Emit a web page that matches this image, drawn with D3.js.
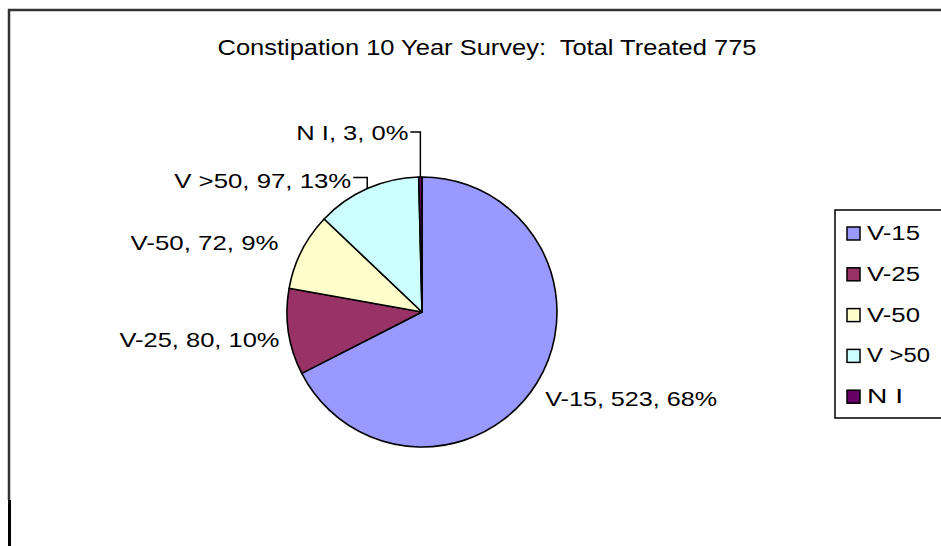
<!DOCTYPE html>
<html>
<head>
<meta charset="utf-8">
<script src="https://cdn.jsdelivr.net/npm/d3@7"></script>
<style>
  body { margin: 0; background: #fff; }
  svg { display: block; }
  text { font-family: "Liberation Sans", Arial, sans-serif; fill: #000; white-space: pre; }
</style>
</head>
<body>
<script>
// chart data
var categories = ["V-15", "V-25", "V-50", "V >50", "N I"];
var counts = [523, 80, 72, 97, 3];
var percents = ["68%", "10%", "9%", "13%", "0%"];
var colors = ["#9999ff", "#993366", "#ffffcc", "#ccffff", "#660066"];
var title = "Constipation 10 Year Survey:  Total Treated 775";

var width = 941, height = 546;
var cx = 422, cy = 312, radius = 135;

// label placement relative to each slice's outer point
var labelLayout = [
  { dx: 8, dy: 24, anchor: "start", len: 172, leader: false },
  { dx: -9, dy: 15, anchor: "end", len: 160, leader: false },
  { dx: -23, dy: -1, anchor: "end", len: 148, leader: false },
  { dx: -16, dy: -1, anchor: "end", len: 177, leader: true, hookY: -11 },
  { dx: -12, dy: -37, anchor: "end", len: 112, leader: true, hookY: -45 }
];
var legendLen = [53, 53, 53, 63, 36];

var svg = d3.select("body").append("svg")
  .attr("width", width)
  .attr("height", height);

// chart area border (top + left visible)
svg.append("path")
  .attr("d", "M9,500 L9,10 L" + (width + 5) + ",10")
  .style("fill", "none")
  .style("stroke", "#333")
  .style("stroke-width", 2.5);
svg.append("line")
  .attr("x1", 9.5).attr("y1", 500).attr("x2", 9.5).attr("y2", height)
  .style("stroke", "#000")
  .style("stroke-width", 3);

// title
svg.append("text")
  .attr("x", 487)
  .attr("y", 55)
  .attr("text-anchor", "middle")
  .attr("textLength", 539)
  .attr("lengthAdjust", "spacingAndGlyphs")
  .style("font-size", "22px")
  .text(title);

var pie = d3.pie().sort(null).value(function(d) { return d; });
var arcs = pie(counts);
var arc = d3.arc().innerRadius(0).outerRadius(radius);

var g = svg.append("g").attr("transform", "translate(" + cx + "," + cy + ")");

g.selectAll("path.slice")
  .data(arcs)
  .enter().append("path")
  .attr("class", "slice")
  .attr("d", arc)
  .style("fill", function(d, i) { return colors[i]; })
  .style("stroke", "#000")
  .style("stroke-width", 1.6)
  .style("stroke-linejoin", "round");

// data labels
arcs.forEach(function(d, i) {
  var a = (d.startAngle + d.endAngle) / 2;
  var px = cx + radius * Math.sin(a);
  var py = cy - radius * Math.cos(a);
  var L = labelLayout[i];
  var tx = px + L.dx, ty = py + L.dy;

  if (L.leader) {
    var hy = py + L.hookY;
    svg.append("path")
      .attr("d", "M" + (tx + 2) + "," + hy + " L" + px + "," + hy + " L" + px + "," + py)
      .style("fill", "none")
      .style("stroke", "#000")
      .style("stroke-width", 1.5);
  }

  svg.append("text")
    .attr("x", tx)
    .attr("y", ty)
    .attr("text-anchor", L.anchor)
    .attr("textLength", L.len)
    .attr("lengthAdjust", "spacingAndGlyphs")
    .style("font-size", "21px")
    .text(categories[i] + ", " + counts[i] + ", " + percents[i]);
});

// legend
var legend = svg.append("g").attr("transform", "translate(835,210)");
legend.append("rect")
  .attr("x", 0).attr("y", 0)
  .attr("width", 140).attr("height", 208)
  .style("fill", "#fff")
  .style("stroke", "#000")
  .style("stroke-width", 1.5);

var item = legend.selectAll("g.item")
  .data(categories)
  .enter().append("g")
  .attr("class", "item")
  .attr("transform", function(d, i) { return "translate(0," + (23 + i * 40.8) + ")"; });

item.append("rect")
  .attr("x", 12).attr("y", -6)
  .attr("width", 13).attr("height", 13)
  .style("fill", function(d, i) { return colors[i]; })
  .style("stroke", "#000")
  .style("stroke-width", 1.5);

item.append("text")
  .attr("x", 32)
  .attr("y", 7)
  .attr("textLength", function(d, i) { return legendLen[i]; })
  .attr("lengthAdjust", "spacingAndGlyphs")
  .style("font-size", "20px")
  .text(function(d) { return d; });
</script>
</body>
</html>
